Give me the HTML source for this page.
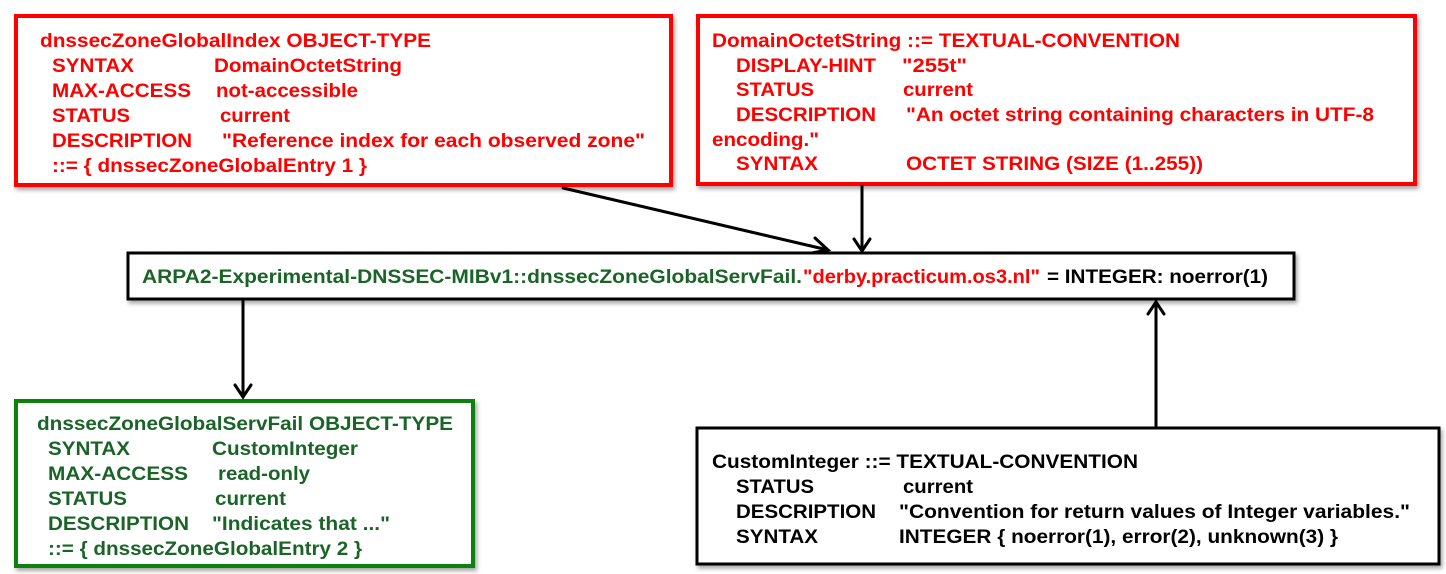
<!DOCTYPE html>
<html><head><meta charset="utf-8"><style>
html,body{margin:0;padding:0;background:#fff;width:1446px;height:574px;overflow:hidden}
text{font-family:"Liberation Sans",Arial,sans-serif;font-weight:bold;font-size:19px}
</style></head><body>
<svg width="1446" height="574" viewBox="0 0 1446 574" xmlns="http://www.w3.org/2000/svg">
<defs>
<filter id="sh" x="-5%" y="-5%" width="110%" height="120%"><feDropShadow dx="2" dy="3" stdDeviation="2" flood-color="#000" flood-opacity="0.35"/></filter>
</defs>
<g filter="url(#sh)">
<rect x="16" y="16" width="655" height="169" fill="#fff" stroke="#ff0000" stroke-width="4"/>
<rect x="698" y="16" width="717" height="168" fill="#fff" stroke="#ff0000" stroke-width="4"/>
<rect x="128" y="253" width="1166" height="46" fill="#fff" stroke="#000" stroke-width="3"/>
<rect x="16" y="401" width="457" height="165" fill="#fff" stroke="#108010" stroke-width="4"/>
<rect x="697" y="428" width="742" height="136" fill="#fff" stroke="#000" stroke-width="3"/>
</g>
<g stroke="#000" stroke-width="3" fill="none" stroke-linecap="round">
<line x1="563" y1="188" x2="828" y2="250"/><polyline points="815,238 828,250 812,253"/>
<line x1="862" y1="186" x2="862" y2="251"/><polyline points="854,239 862,251 870,239"/>
<line x1="243" y1="301" x2="243" y2="397"/><polyline points="235,385 243,397 251,385"/>
<line x1="1156" y1="426" x2="1156" y2="302"/><polyline points="1148,314 1156,302 1164,314"/>
</g>
<g fill="#ff0000">
<text x="40" y="47" textLength="391" lengthAdjust="spacingAndGlyphs">dnssecZoneGlobalIndex OBJECT-TYPE</text>
<text x="52" y="72" textLength="82" lengthAdjust="spacingAndGlyphs">SYNTAX</text>
<text x="214" y="72" textLength="188" lengthAdjust="spacingAndGlyphs">DomainOctetString</text>
<text x="52" y="97" textLength="139" lengthAdjust="spacingAndGlyphs">MAX-ACCESS</text>
<text x="216" y="97" textLength="142" lengthAdjust="spacingAndGlyphs">not-accessible</text>
<text x="52" y="122" textLength="78" lengthAdjust="spacingAndGlyphs">STATUS</text>
<text x="220" y="122" textLength="70" lengthAdjust="spacingAndGlyphs">current</text>
<text x="52" y="147" textLength="140" lengthAdjust="spacingAndGlyphs">DESCRIPTION</text>
<text x="222" y="147" textLength="423" lengthAdjust="spacingAndGlyphs">"Reference index for each observed zone"</text>
<text x="52" y="172" textLength="315" lengthAdjust="spacingAndGlyphs">::= { dnssecZoneGlobalEntry 1 }</text>

<text x="712" y="47" textLength="468" lengthAdjust="spacingAndGlyphs">DomainOctetString ::= TEXTUAL-CONVENTION</text>
<text x="736" y="72" textLength="140" lengthAdjust="spacingAndGlyphs">DISPLAY-HINT</text>
<text x="902" y="72" textLength="65" lengthAdjust="spacingAndGlyphs">"255t"</text>
<text x="736" y="96" textLength="78" lengthAdjust="spacingAndGlyphs">STATUS</text>
<text x="903" y="96" textLength="70" lengthAdjust="spacingAndGlyphs">current</text>
<text x="736" y="121" textLength="140" lengthAdjust="spacingAndGlyphs">DESCRIPTION</text>
<text x="906" y="121" textLength="468" lengthAdjust="spacingAndGlyphs">"An octet string containing characters in UTF-8</text>
<text x="712" y="146" textLength="107" lengthAdjust="spacingAndGlyphs">encoding."</text>
<text x="736" y="170" textLength="82" lengthAdjust="spacingAndGlyphs">SYNTAX</text>
<text x="906" y="170" textLength="297" lengthAdjust="spacingAndGlyphs">OCTET STRING (SIZE (1..255))</text>
</g>
<text x="142" y="283" fill="#1a6428" textLength="660" lengthAdjust="spacingAndGlyphs">ARPA2-Experimental-DNSSEC-MIBv1::dnssecZoneGlobalServFail.</text>
<text x="803" y="283" fill="#ff0000" textLength="237" lengthAdjust="spacingAndGlyphs">"derby.practicum.os3.nl"</text>
<text x="1047" y="283" fill="#000" textLength="221" lengthAdjust="spacingAndGlyphs">= INTEGER: noerror(1)</text>
<g fill="#1a6428">
<text x="37" y="430" textLength="416" lengthAdjust="spacingAndGlyphs">dnssecZoneGlobalServFail OBJECT-TYPE</text>
<text x="48" y="455" textLength="82" lengthAdjust="spacingAndGlyphs">SYNTAX</text>
<text x="212" y="455" textLength="146" lengthAdjust="spacingAndGlyphs">CustomInteger</text>
<text x="48" y="480" textLength="140" lengthAdjust="spacingAndGlyphs">MAX-ACCESS</text>
<text x="218" y="480" textLength="92" lengthAdjust="spacingAndGlyphs">read-only</text>
<text x="48" y="505" textLength="79" lengthAdjust="spacingAndGlyphs">STATUS</text>
<text x="215" y="505" textLength="71" lengthAdjust="spacingAndGlyphs">current</text>
<text x="48" y="530" textLength="141" lengthAdjust="spacingAndGlyphs">DESCRIPTION</text>
<text x="212" y="530" textLength="178" lengthAdjust="spacingAndGlyphs">"Indicates that ..."</text>
<text x="48" y="555" textLength="314" lengthAdjust="spacingAndGlyphs">::= { dnssecZoneGlobalEntry 2 }</text>
</g>
<g fill="#000">
<text x="712" y="468" textLength="426" lengthAdjust="spacingAndGlyphs">CustomInteger ::= TEXTUAL-CONVENTION</text>
<text x="736" y="493" textLength="78" lengthAdjust="spacingAndGlyphs">STATUS</text>
<text x="903" y="493" textLength="70" lengthAdjust="spacingAndGlyphs">current</text>
<text x="736" y="518" textLength="140" lengthAdjust="spacingAndGlyphs">DESCRIPTION</text>
<text x="899" y="518" textLength="511" lengthAdjust="spacingAndGlyphs">"Convention for return values of Integer variables."</text>
<text x="736" y="543" textLength="82" lengthAdjust="spacingAndGlyphs">SYNTAX</text>
<text x="899" y="543" textLength="439" lengthAdjust="spacingAndGlyphs">INTEGER { noerror(1), error(2), unknown(3) }</text>
</g>
</svg>
</body></html>
